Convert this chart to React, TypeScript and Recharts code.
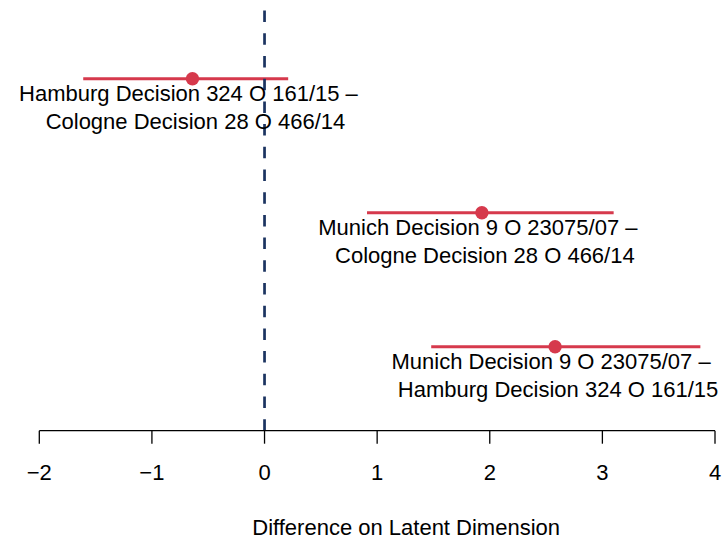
import React from 'react';
import { ComposedChart, Scatter, XAxis, YAxis, ReferenceLine } from 'recharts';

// pairwise court comparisons: top and bottom line of each label
const labelTop = [
  'Hamburg Decision 324 O 161/15 –',
  'Munich Decision 9 O 23075/07 –',
  'Munich Decision 9 O 23075/07 –',
];
const labelBottom = [
  'Cologne Decision 28 O 466/14',
  'Cologne Decision 28 O 466/14',
  'Hamburg Decision 324 O 161/15',
];
const estimates = [-0.64, 1.93, 2.58];
const lowerBounds = [-1.61, 0.91, 1.48];
const upperBounds = [0.21, 3.1, 3.87];
const rows = [3, 2, 1];
const xTicks = [-2, -1, 0, 1, 2, 3, 4];

const RED = '#d6394c';
const NAVY = '#1b3360';
const FONT = '"Liberation Sans", Arial, Helvetica, sans-serif';
const FS = 22;

const points = estimates.map((est, i) => ({
  x: est,
  y: rows[i],
  top: labelTop[i],
  bottom: labelBottom[i],
}));

const PointWithLabel = (props: any) => {
  const { cx, cy, payload } = props;
  return (
    <g>
      <circle cx={cx} cy={cy} r={6.7} fill={RED} />
      <text x={cx - 4} y={cy + 22.5} textAnchor="middle" fontSize={FS} fontFamily={FONT} fill="#000">
        {payload.top}
      </text>
      <text x={cx + 3} y={cy + 50} textAnchor="middle" fontSize={FS} fontFamily={FONT} fill="#000">
        {payload.bottom}
      </text>
    </g>
  );
};

// tick label: baseline sits one cap-height below the tick margin
const TickLabel = (props: any) => {
  const { x, y, payload } = props;
  return (
    <text x={x} y={y + 15.5} textAnchor="middle" fontSize={FS} fontFamily={FONT} fill="#000">
      {String(payload.value).replace('-', '\u2212')}
    </text>
  );
};

const AxisTitle = (props: any) => {
  const { viewBox } = props;
  return (
    <text
      x={viewBox.x + viewBox.width / 2 + 29}
      y={viewBox.y + viewBox.height - 7}
      textAnchor="middle"
      fontSize={FS}
      fontFamily={FONT}
      fill="#000"
    >
      Difference on Latent Dimension
    </text>
  );
};

export default function App() {
  return (
    <div style={{ position: 'absolute', left: 0, top: 0, width: 727, height: 542, background: '#fff' }}>
      <ComposedChart
        width={727}
        height={542}
        data={points}
        margin={{ top: 9, right: 12, bottom: 0, left: 39.3 }}
      >
        <XAxis
          type="number"
          dataKey="x"
          domain={[-2, 4]}
          ticks={xTicks}
          interval={0}
          height={111.3}
          tickSize={13}
          tickMargin={21}
          stroke="#000"
          strokeWidth={1.3}
          tick={<TickLabel />}
          label={{ content: <AxisTitle /> }}
        />
        <YAxis type="number" dataKey="y" domain={[0.373, 3.52]} hide />
        {estimates.map((_, i) => (
          <ReferenceLine
            key={`ci-${i}`}
            segment={[
              { x: lowerBounds[i], y: rows[i] },
              { x: upperBounds[i], y: rows[i] },
            ]}
            stroke={RED}
            strokeWidth={3}
          />
        ))}
        <Scatter dataKey="y" fill={RED} shape={<PointWithLabel />} isAnimationActive={false} />
        <ReferenceLine x={0} stroke={NAVY} strokeWidth={2.7} strokeDasharray="11.5 11.2" />
      </ComposedChart>
    </div>
  );
}
